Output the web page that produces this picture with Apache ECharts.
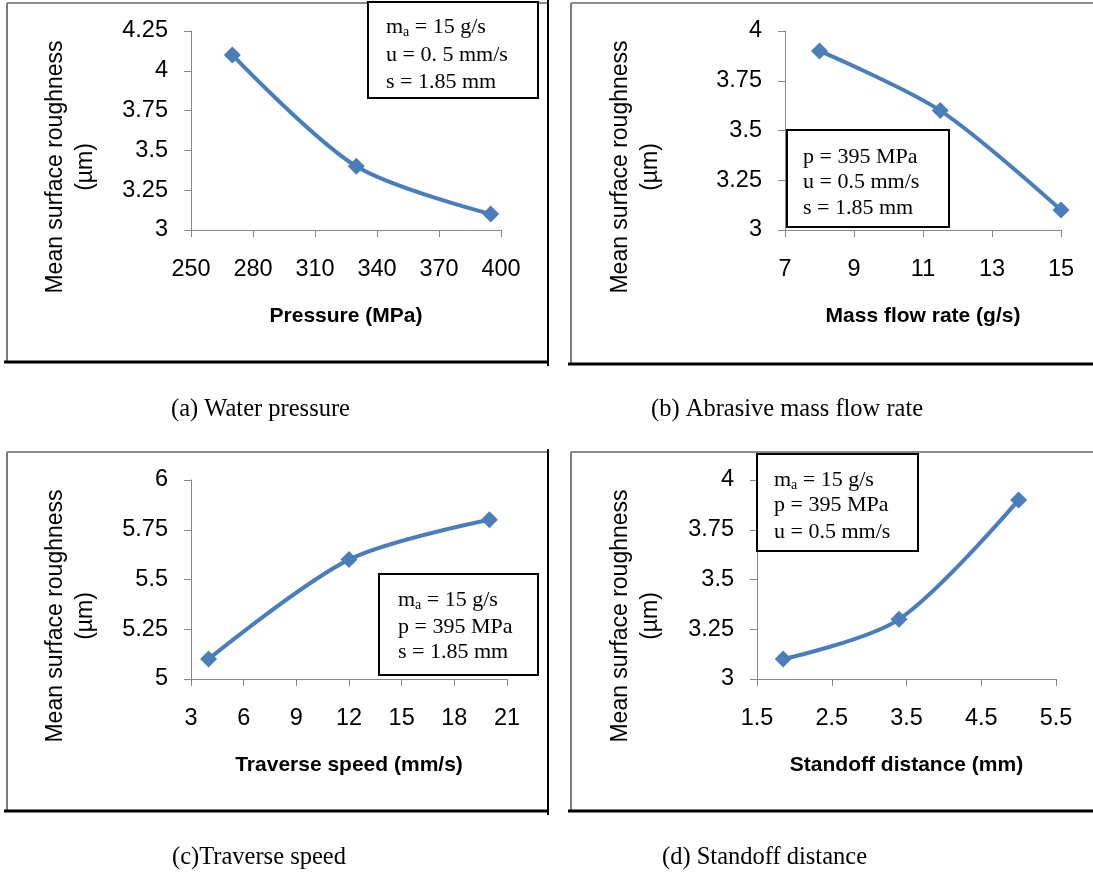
<!DOCTYPE html>
<html><head><meta charset="utf-8">
<script src="https://cdn.jsdelivr.net/npm/echarts@6/dist/echarts.min.js"></script>
<style>html,body{margin:0;padding:0;background:#fff}#c{width:1093px;height:873px}</style>
</head><body><div id="c"></div>
<script>
// ---------------- data ----------------
const pressureX = [270, 330, 395];
const pressureY = [4.1, 3.4, 3.1];
const massFlowX = [8, 11.5, 15];
const massFlowY = [3.9, 3.6, 3.1];
const speedX = [4, 12, 20];
const speedY = [5.1, 5.6, 5.8];
const standoffX = [1.85, 3.4, 5];
const standoffY = [3.1, 3.3, 3.9];

const pressureTicks = [250, 280, 310, 340, 370, 400];
const massFlowTicks = [7, 9, 11, 13, 15];
const speedTicks = [3, 6, 9, 12, 15, 18, 21];
const standoffTicks = [1.5, 2.5, 3.5, 4.5, 5.5];
const roughTicksA = [3, 3.25, 3.5, 3.75, 4, 4.25];
const roughTicksB = [3, 3.25, 3.5, 3.75, 4];
const roughTicksC = [5, 5.25, 5.5, 5.75, 6];
const roughTicksD = [3, 3.25, 3.5, 3.75, 4];

const xNames = ['Pressure (MPa)', 'Mass flow rate (g/s)', 'Traverse speed (mm/s)', 'Standoff distance (mm)'];
const yTitle = 'Mean surface roughness\n(µm)';
const captions = ['(a) Water pressure', '(b) Abrasive mass flow rate', '(c)Traverse speed', '(d) Standoff distance'];
const notesA = ['m_a = 15 g/s', 'u = 0. 5 mm/s', 's = 1.85 mm'];
const notesB = ['p = 395 MPa', 'u = 0.5 mm/s', 's = 1.85 mm'];
const notesC = ['m_a = 15 g/s', 'p = 395 MPa', 's = 1.85 mm'];
const notesD = ['m_a = 15 g/s', 'p = 395 MPa', 'u = 0.5 mm/s'];

// ---------------- layout ----------------
const SANS = '"Liberation Sans", Arial, sans-serif';
const SERIF = '"Liberation Serif", "Times New Roman", serif';
const BLUE = '#4a7ebb';
const AXIS = '#868686';

const panels = [
  {xs: pressureX, ys: pressureY, xt: pressureTicks, yt: roughTicksA, notes: notesA,
   grid: {left: 191, top: 31, width: 310, height: 199},
   frame: {x: 7, y: 3, r: 548, b: 362}, box: {x: 368, y: 2, w: 170, h: 96}, tx: 386, ly: [27, 55, 82],
   yt0: [71, 167], cap: [171, 410]},
  {xs: massFlowX, ys: massFlowY, xt: massFlowTicks, yt: roughTicksB, notes: notesB,
   grid: {left: 785, top: 31, width: 276, height: 199},
   frame: {x: 571, y: 3, r: null, b: 364}, box: {x: 787, y: 130, w: 162, h: 97}, tx: 803, ly: [157, 182, 208],
   yt0: [636, 167], cap: [651, 410]},
  {xs: speedX, ys: speedY, xt: speedTicks, yt: roughTicksC, notes: notesC,
   grid: {left: 191, top: 480, width: 316, height: 199},
   frame: {x: 7, y: 452, r: 548, b: 811}, box: {x: 379, y: 574, w: 159, h: 101}, tx: 398, ly: [600, 627, 652],
   yt0: [71, 616], cap: [172, 858]},
  {xs: standoffX, ys: standoffY, xt: standoffTicks, yt: roughTicksD, notes: notesD,
   grid: {left: 757, top: 480, width: 299, height: 199},
   frame: {x: 571, y: 452, r: null, b: 811}, box: {x: 757, y: 454, w: 161, h: 97}, tx: 774, ly: [480, 505, 532],
   yt0: [636, 616], cap: [662, 858]}
];

const graphics = [];
function line(x1, y1, x2, y2, color, w) {
  graphics.push({type: 'line', z: 1, silent: true, shape: {x1, y1, x2, y2}, style: {stroke: color, lineWidth: w}});
}
function noteText(s) {
  if (s.indexOf('m_a') === 0) return '{n|m}{s|a}{n|' + s.slice(3) + '}';
  return '{n|' + s + '}';
}

panels.forEach((p, i) => {
  const f = p.frame;
  const right = f.r === null ? 1093 : f.r;
  line(f.x, f.y, right, f.y, '#8c8c8c', 2);
  line(f.x, f.y, f.x, f.b, '#7a7a7a', 2);
  if (f.r !== null) line(f.r, f.y - 3, f.r, f.b + 4, '#000', 2);
  line(f.x - 3, f.b, right, f.b, '#000', 3);
  // annotation box
  graphics.push({type: 'rect', z: 100, shape: {x: p.box.x, y: p.box.y, width: p.box.w, height: p.box.h},
    style: {fill: '#fff', stroke: '#000', lineWidth: 2}});
  p.notes.forEach((s, k) => {
    graphics.push({type: 'text', z: 101, x: p.tx, y: p.ly[k],
      style: {text: noteText(s), align: 'left', verticalAlign: 'middle', fill: '#000',
        rich: {
          n: {fontSize: 22, fontFamily: SERIF, fill: '#000', lineHeight: 25, verticalAlign: 'middle'},
          s: {fontSize: 14, fontFamily: SERIF, fill: '#000', lineHeight: 15, verticalAlign: 'bottom'}
        }}});
  });
  // y title
  graphics.push({type: 'text', z: 50, x: p.yt0[0], y: p.yt0[1], rotation: Math.PI / 2,
    style: {text: yTitle, align: 'center', verticalAlign: 'middle', fill: '#000',
      fontSize: 23, fontFamily: SANS, lineHeight: 30}});
  // caption
  graphics.push({type: 'text', z: 50, x: p.cap[0], y: p.cap[1],
    style: {text: captions[i], align: 'left', verticalAlign: 'middle', fill: '#000',
      fontSize: 24.5, fontFamily: SERIF}});
});

const option = {
  backgroundColor: '#fff',
  animation: false,
  grid: panels.map(p => Object.assign({containLabel: false}, p.grid)),
  xAxis: panels.map((p, i) => ({
    type: 'value', gridIndex: i, min: p.xt[0], max: p.xt[p.xt.length - 1],
    name: xNames[i], nameLocation: 'middle', nameGap: 76,
    nameTextStyle: {fontSize: 21, fontWeight: 'bold', color: '#000', fontFamily: SANS},
    axisLine: {show: true, onZero: false, lineStyle: {color: AXIS, width: 1}},
    axisTick: {show: true, length: 7, inside: false, customValues: p.xt, lineStyle: {color: AXIS, width: 1}},
    axisLabel: {customValues: p.xt, fontSize: 23.5, color: '#000', margin: 28, fontFamily: SANS, hideOverlap: false},
    splitLine: {show: false}
  })),
  yAxis: panels.map((p, i) => ({
    type: 'value', gridIndex: i, min: p.yt[0], max: p.yt[p.yt.length - 1],
    axisLine: {show: true, onZero: false, lineStyle: {color: AXIS, width: 1}},
    axisTick: {show: true, length: 7, inside: false, customValues: p.yt, lineStyle: {color: AXIS, width: 1}},
    axisLabel: {customValues: p.yt, fontSize: 23.5, color: '#000', margin: 23, fontFamily: SANS, hideOverlap: false},
    splitLine: {show: false}
  })),
  series: panels.map((p, i) => ({
    type: 'line', xAxisIndex: i, yAxisIndex: i,
    data: p.xs.map((x, k) => [x, p.ys[k]]),
    smooth: 0.3, symbol: 'diamond', symbolSize: 17, showAllSymbol: true,
    lineStyle: {color: BLUE, width: 4}, itemStyle: {color: BLUE},
    z: 5
  })),
  graphic: graphics
};

const chart = echarts.init(document.getElementById('c'), null, {renderer: 'canvas'});
chart.setOption(option);
</script>
</body></html>
